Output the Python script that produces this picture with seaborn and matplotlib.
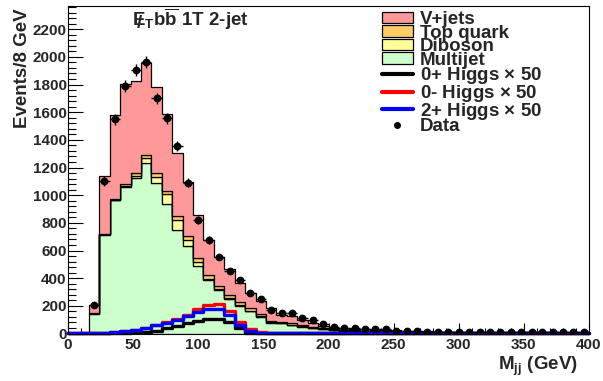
import matplotlib
matplotlib.use("Agg")
import matplotlib.pyplot as plt
import numpy as np
import pandas as pd
import seaborn as sns
from matplotlib.patches import Patch
from matplotlib.lines import Line2D
from matplotlib.ticker import MultipleLocator

# 8 GeV bins for backgrounds / data (16-400) and signals (0-400)
edges = list(range(16, 401, 8))
centers = np.array(edges[:-1]) + 4
sig_edges = list(range(0, 401, 8))
sig_centers = np.array(sig_edges[:-1]) + 4

# stacked backgrounds (events per bin)
multijet = [144, 712, 962, 1058, 1122, 1235, 1086, 934, 748, 633,
            490, 387, 315, 249, 201, 163, 121, 78, 74, 61,
            49, 40, 30, 24, 20, 18, 15, 13, 11, 10,
            9, 8, 7, 6, 5.5, 5, 4.5, 4, 4, 3.5,
            3.5, 3, 3, 3, 2.5, 2.5, 2.5, 2]
diboson = [1, 4, 5, 10, 18, 32, 48, 75, 73, 43,
           25, 8, 6, 5, 4, 3, 3, 2, 2, 2,
           2, 1, 1, 1, 1, 1, 1, 1, 0.5, 0.5,
           0.5, 0.5, 0.5, 0.5, 0.5, 0.5, 0.5, 0.5, 0.5, 0.5,
           0.5, 0.5, 0.5, 0.5, 0.5, 0.5, 0.5, 0.5]
top_quark = [1, 4, 8, 14, 18, 23, 24, 23, 29, 29,
             32, 28, 22, 24, 21, 16, 15, 10, 9, 11,
             10, 8, 7, 6, 5, 5, 4, 4, 3, 3,
             3, 2, 2, 2, 2, 1.5, 1.5, 1.5, 1, 1,
             1, 1, 1, 1, 1, 1, 1, 1]
vjets = [58, 419, 605, 722, 668, 665, 622, 553, 453, 393,
         310, 253, 212, 186, 137, 113, 98, 92, 49, 53,
         37, 29, 18, 11, 12, 11, 12, 10, 10, 8.5,
         7.5, 7.5, 6.5, 5.5, 5, 5, 4.5, 4.5, 4, 4,
         3.5, 3.5, 3, 3, 3, 2.5, 2.5, 2.5]
data = [204, 1103, 1549, 1789, 1905, 1961, 1700, 1556, 1358, 1090,
        821, 676, 553, 452, 387, 295, 247, 168, 150, 146,
        110, 98, 69, 50, 40, 43, 36, 31, 29, 18,
        18, 18, 11, 10, 8, 8, 11, 11, 9, 8,
        8, 8, 8, 8, 8, 8, 8, 8]

# signals x 50
higgs_0p = [1, 1, 1, 2, 3, 5, 8, 13, 20, 38, 54, 74, 93, 105, 105, 81, 38, 5, 2,
            1, 1, 1, 1, 1, 1, 1, 1, 1, 1, 1, 1, 1, 1, 1, 1, 1, 1, 1, 1, 1,
            1, 1, 1, 1, 1, 1, 1, 1, 1, 1]
higgs_0m = [2, 3, 4, 6, 9, 16, 24, 42, 62, 85, 105, 134, 175, 206, 213, 165, 85, 30, 8,
            2, 1, 1, 1, 1, 1, 1, 1, 1, 1, 1, 1, 1, 1, 1, 1, 1, 1, 1, 1, 1,
            1, 1, 1, 1, 1, 1, 1, 1, 1, 1]
higgs_2p = [3, 4, 5, 7, 10, 18, 25, 42, 59, 78, 98, 127, 158, 175, 180, 134, 61, 20, 6,
            3, 2, 2, 2, 2, 2, 2, 2, 2, 2, 2, 2, 2, 2, 2, 2, 2, 2, 2, 2, 2,
            2, 2, 2, 2, 2, 2, 2, 2, 2, 2]

processes = ["V+jets", "Top quark", "Diboson", "Multijet"]
colors = {"V+jets": "#ff9999", "Top quark": "#ffcc66",
          "Diboson": "#ffff99", "Multijet": "#ccffcc"}

bkg = pd.concat([
    pd.DataFrame({"mjj": centers, "w": vals, "process": name})
    for name, vals in zip(processes, [vjets, top_quark, diboson, multijet])
], ignore_index=True)

sns.set_style("ticks")
plt.rcParams["font.family"] = ["Liberation Sans", "DejaVu Sans"]
plt.rcParams["font.weight"] = "bold"
plt.rcParams["mathtext.fontset"] = "custom"
plt.rcParams["mathtext.rm"] = "Liberation Sans:bold"
plt.rcParams["mathtext.bf"] = "Liberation Sans:bold"
plt.rcParams["mathtext.it"] = "Liberation Sans:bold"

fig = plt.figure(figsize=(6.03, 3.81), dpi=100)
ax = fig.add_axes([68 / 603, 1 - 333.5 / 381, 521 / 603, 327.5 / 381])

sns.histplot(data=bkg, x="mjj", weights="w", hue="process", hue_order=processes,
             bins=edges, multiple="stack", element="step", palette=colors,
             alpha=1, edgecolor="black", linewidth=0.9, legend=False, ax=ax)

for vals, c in [(higgs_0p, "black"), (higgs_0m, "red"), (higgs_2p, "blue")]:
    sns.histplot(x=sig_centers, weights=vals, bins=sig_edges, element="step",
                 fill=False, color=c, linewidth=2.4, ax=ax, clip_on=False)

ax.errorbar(centers, data, yerr=np.sqrt(data), xerr=4, fmt="o", color="black",
            ms=4.6, elinewidth=1, capsize=0, zorder=10)

ax.set_xlim(0, 400)
ax.set_ylim(0, 2368)
ax.set_xlabel("")
ax.set_ylabel("")
ax.xaxis.set_major_locator(MultipleLocator(50))
ax.xaxis.set_minor_locator(MultipleLocator(10))
ax.yaxis.set_major_locator(MultipleLocator(200))
ax.yaxis.set_minor_locator(MultipleLocator(40))
ax.tick_params(which="both", direction="in", top=False, right=False,
               labelsize=11, width=0.8, color="black")
ax.tick_params(axis="y", which="major", length=11, pad=1)
ax.tick_params(axis="y", which="minor", length=6)
ax.tick_params(axis="x", which="major", length=8, pad=3)
ax.tick_params(axis="x", which="minor", length=4)
for s in ax.spines.values():
    s.set_linewidth(0.8)
    s.set_color("black")

# title: missing-ET symbol is an E with a slash laid over it
ax.text(0.123, 0.939, r"E$_{\mathbf{T}}$b$\overline{\mathbf{b}}$ 1T 2-jet",
        transform=ax.transAxes, fontsize=13.5, fontweight="bold", va="baseline")
ax.annotate("/", xy=(0.123, 0.939), xycoords="axes fraction", xytext=(3.6, -1.5),
            textcoords="offset points", fontsize=13.5, fontweight="bold",
            va="baseline")
ax.text(0.979, -0.111, r"M$_{\mathbf{jj}}$ (GeV)", transform=ax.transAxes,
        fontsize=13.5, fontweight="bold", ha="right", va="baseline")
ax.text(-0.0864, 0.994, "Events/8 GeV", transform=ax.transAxes, rotation=90,
        fontsize=13.5, fontweight="bold", ha="center", va="top")

handles = [Patch(facecolor=colors[p], edgecolor="black", linewidth=0.9) for p in processes]
handles += [Line2D([], [], color=c, lw=3) for c in ["black", "red", "blue"]]
handles += [Line2D([], [], marker="o", color="black", ls="none", ms=4)]
labels = processes + [r"0+ Higgs $\times$ 50", r"0- Higgs $\times$ 50",
                      r"2+ Higgs $\times$ 50", "Data"]
ax.legend(handles, labels, loc="upper left", bbox_to_anchor=(0.603, 0.985),
          frameon=False, fontsize=13.5, borderpad=0, borderaxespad=0,
          labelspacing=-0.18, handlelength=1.63, handleheight=0.56,
          handletextpad=0.37)

fig.savefig("out.png", dpi=100)
